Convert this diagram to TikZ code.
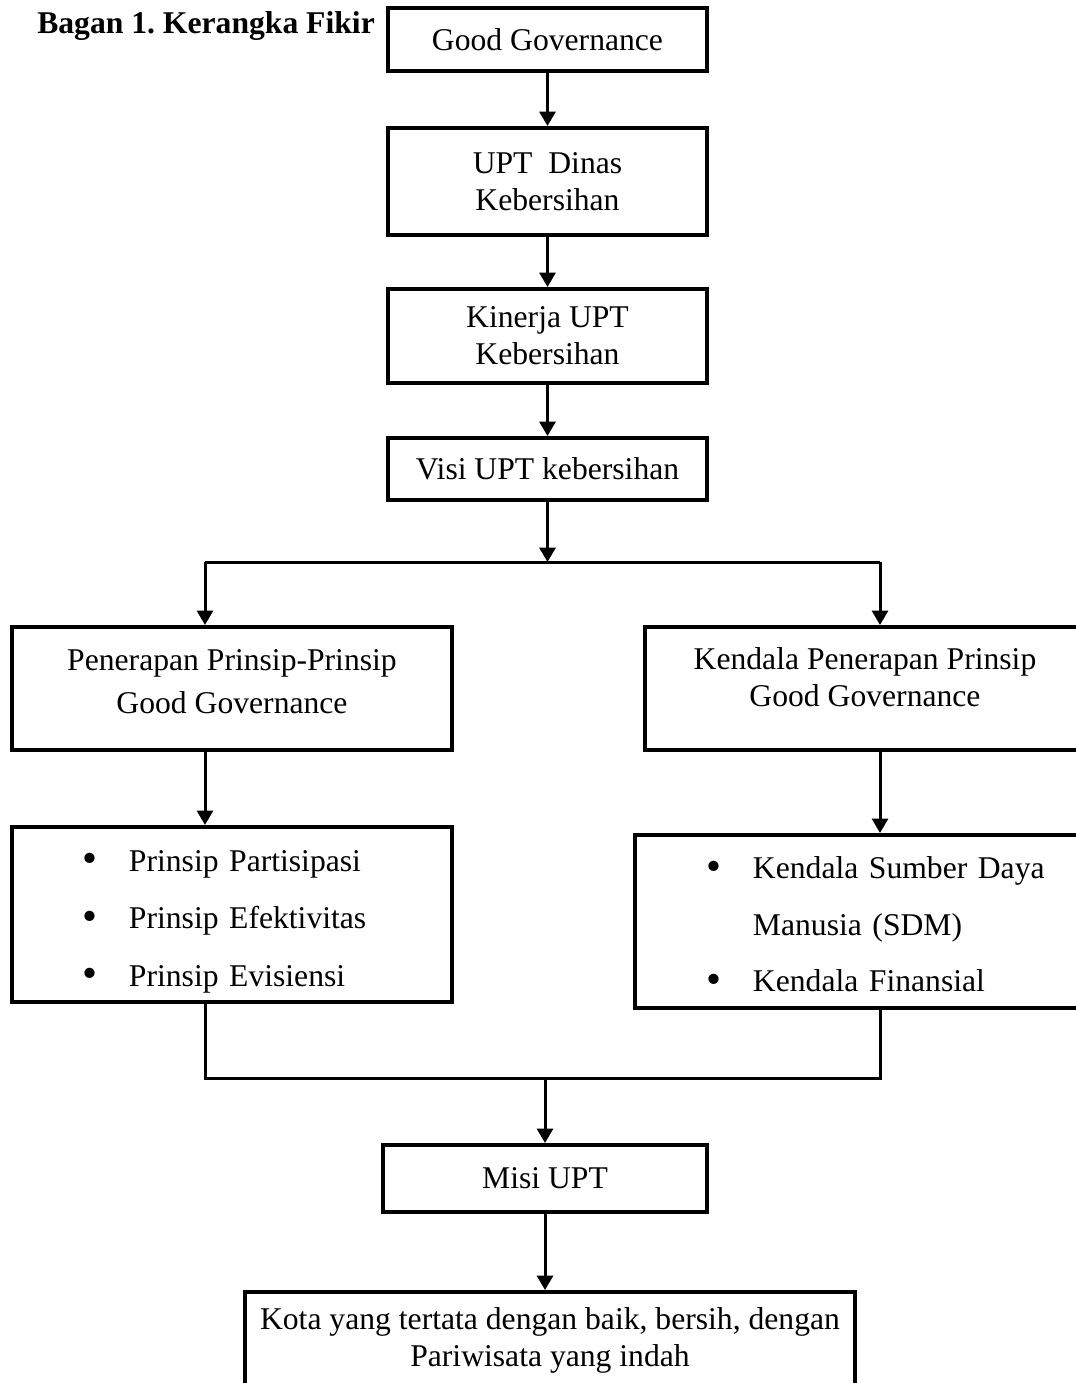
\documentclass[tikz,border=0pt]{standalone}
\usepackage{fontspec}
\setmainfont{Liberation Serif}
\usepackage{tikz}
\usetikzlibrary{positioning,arrows.meta,calc}

\tikzset{
    box/.style={draw, line width=0.1cm, align=center, inner sep=0pt},
    lbl/.style={align=center, inner sep=0pt},
    arr/.style={line width=0.075cm, -{Triangle[length=0.36cm,width=0.4cm]}},
    link/.style={line width=0.075cm}
}
\newcommand{\bul}{\raisebox{-0.04cm}{\scalebox{1.35}{\textbullet}}}

\begin{document}
\frenchspacing
\begin{tikzpicture}[x=0.025cm, y=-0.025cm, font=\fontsize{22.5}{26.3}\selectfont]
    \useasboundingbox (0,0) rectangle (1076,1383);

    % Title
    \node[anchor=base west, inner sep=0pt, font=\fontsize{22.5}{26.3}\selectfont\bfseries] (title) at (37,33) {Bagan 1. Kerangka Fikir};

    % Main column
    \node[box, minimum width=7.975cm, minimum height=1.575cm] (gg) at (547.5,39.5) {Good Governance};
    \node[box, minimum width=7.975cm, minimum height=2.675cm] (upt) at (547.5,181.5) {UPT~~Dinas\\Kebersihan};
    \node[box, minimum width=7.975cm, minimum height=2.35cm] (kinerja) at (547.5,336) {Kinerja UPT\\Kebersihan};
    \node[box, minimum width=7.975cm, minimum height=1.55cm] (visi) at (547.5,469) {Visi UPT kebersihan};

    \draw[arr] (gg) -- (upt);
    \draw[arr] (upt) -- (kinerja);
    \draw[arr] (kinerja) -- (visi);

    % Split
    \coordinate (splitL) at (205,562);
    \coordinate (splitR) at (880,562);
    \draw[link] (splitL) -- (splitR);
    \draw[arr] (visi.south) -- (visi.south |- splitL);

    % Two branches
    \node[box, minimum width=11cm, minimum height=3.075cm,
          label={[lbl, yshift=0.175cm]center:{Penerapan Prinsip-Prinsip\\[0.15cm]Good Governance}}] (pen) at (232,688.5) {};
    \node[box, minimum width=11cm, minimum height=3.075cm,
          label={[lbl, yshift=0.29cm]center:{Kendala Penerapan Prinsip\\Good Governance}}] (ken) at (865,688.5) {};
    \draw[arr] (splitL) -- (splitL |- pen.north);
    \draw[arr] (splitR) -- (splitR |- ken.north);

    % Lists
    \node[box, minimum width=11cm, minimum height=4.375cm,
          label={[lbl, align=left, text width=7.45cm, yshift=-0.175cm]center:{%
            \makebox[1.15cm][l]{\bul}Prinsip Partisipasi\\[0.51cm]
            \makebox[1.15cm][l]{\bul}Prinsip Efektivitas\\[0.51cm]
            \makebox[1.15cm][l]{\bul}Prinsip Evisiensi}}] (pl) at (232,914.5) {};
    \node[box, minimum width=11.5cm, minimum height=4.325cm,
          label={[lbl, align=left, text width=8.6cm, xshift=0.35cm, yshift=-0.09cm]center:{%
            \makebox[1.15cm][l]{\bul}\makebox[7.425cm][s]{Kendala Sumber Daya}\\[0.5cm]
            \hspace*{1.15cm}Manusia (SDM)\\[0.48cm]
            \makebox[1.15cm][l]{\bul}Kendala Finansial}}] (kl) at (865,921.5) {};
    \draw[arr] (splitL |- pen.south) -- (splitL |- pl.north);
    \draw[arr] (splitR |- ken.south) -- (splitR |- kl.north);

    % Merge
    \coordinate (join) at (545,1078);
    \draw[link] (splitL |- pl.south) |- (join) -| (splitR |- kl.south);

    % Bottom
    \node[box, minimum width=8.1cm, minimum height=1.675cm] (misi) at (545,1178.5) {Misi UPT};
    \node[box, anchor=north, minimum width=15.25cm, minimum height=2.75cm,
          label={[lbl, yshift=0.16cm]center:{Kota yang tertata dengan baik, bersih, dengan\\Pariwisata yang indah}}] (kota) at (550,1290) {};
    \draw[arr] (join) -- (misi);
    \draw[arr] (misi) -- (misi |- kota.north);
\end{tikzpicture}
\end{document}
